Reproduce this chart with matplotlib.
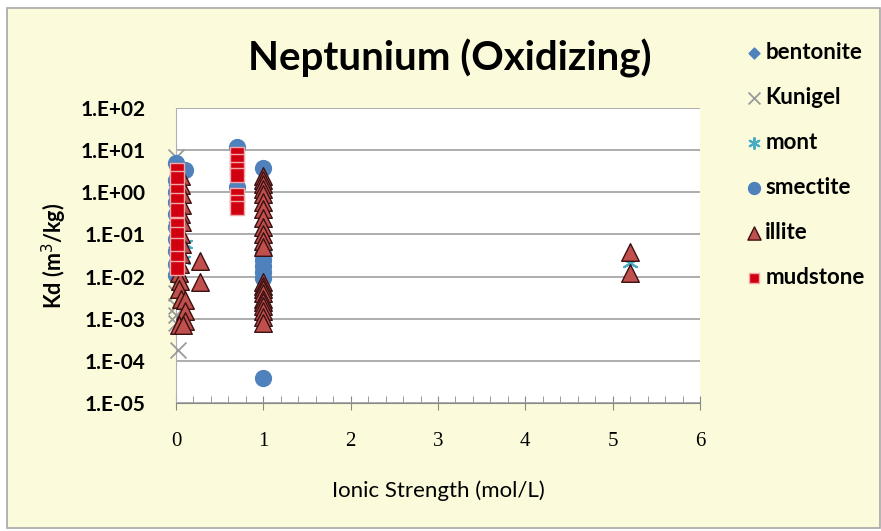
import matplotlib
matplotlib.use("Agg")
import matplotlib.pyplot as plt
from matplotlib.patches import Rectangle
from matplotlib.ticker import FixedLocator, MultipleLocator

# ---------------- data ----------------
bentonite_x = [0.0, 0.0, 0.0, 0.0, 0.0]
bentonite_y = [0.5, 0.2, 0.05, 0.012, 1.5]

kunigel_x = [0.0, 0.0, 0.0, 0.0, 0.0, 0.02]
kunigel_y = [7.0, 0.004, 0.002, 0.0012, 0.0008, 0.00018]

mont_x = [0.1, 0.08, 5.2]
mont_y = [0.06, 0.025, 0.021]

smectite_x = [0.0, 0.0, 0.0, 0.0, 0.0, 0.0, 0.0, 0.0, 0.0, 0.0, 0.1,
              0.7, 0.7,
              1.0, 1.0, 1.0, 1.0, 1.0, 1.0, 1.0]
smectite_y = [5.0, 2.0, 1.0, 0.6, 0.3, 0.15, 0.08, 0.04, 0.02, 0.011, 3.3,
              12.0, 1.3,
              3.7, 0.035, 0.025, 0.018, 0.013, 0.009, 0.00004]

illite_x = [0.06, 0.06, 0.07, 0.07, 0.06, 0.07, 0.06, 0.07, 0.06, 0.05, 0.04,
            0.05, 0.04, 0.06, 0.1, 0.1, 0.1, 0.03, 0.08, 0.28, 0.28,
            1.0, 1.0, 1.0, 1.0, 1.0, 1.0, 1.0, 1.0, 1.0, 1.0, 1.0, 1.0,
            1.0, 1.0, 1.0, 1.0, 1.0, 1.0, 1.0, 1.0, 1.0, 1.0,
            5.2, 5.2]
illite_y = [2.5, 1.5, 0.9, 0.5, 0.3, 0.2, 0.1, 0.06, 0.035, 0.02, 0.012,
            0.008, 0.005, 0.003, 0.0028, 0.0015, 0.0009, 0.0007, 0.0007, 0.024, 0.0074,
            2.5, 2.0, 1.6, 1.2, 0.9, 0.6, 0.4, 0.25, 0.15, 0.1, 0.07, 0.05,
            0.0075, 0.006, 0.005, 0.004, 0.003, 0.0025, 0.002, 0.0015, 0.0011, 0.0008,
            0.038, 0.012]

mudstone_x = [0.01, 0.01, 0.01, 0.01, 0.01, 0.01, 0.01, 0.01, 0.01, 0.01,
              0.7, 0.7, 0.7, 0.7, 0.7, 0.7, 0.7]
mudstone_y = [3.4, 2.2, 1.1, 0.65, 0.38, 0.17, 0.1, 0.056, 0.028, 0.016,
              8.0, 5.5, 3.6, 2.6, 0.85, 0.6, 0.42]

y_ticks = [1e-5, 1e-4, 1e-3, 1e-2, 1e-1, 1e0, 1e1, 1e2]
y_tick_labels = ["1.E-05", "1.E-04", "1.E-03", "1.E-02", "1.E-01", "1.E+00", "1.E+01", "1.E+02"]
x_ticks = [0, 1, 2, 3, 4, 5, 6]

# ---------------- figure ----------------
W, H = 881, 531
fig = plt.figure(figsize=(W / 100, H / 100), dpi=100)
fig.patch.set_facecolor("white")
bg = "#FBFBDC"
fig.patches.append(Rectangle((7 / W, 3 / H), (W - 8) / W, (H - 11) / H,
                             transform=fig.transFigure, facecolor=bg,
                             edgecolor="#A8A8A8", linewidth=1.2, zorder=-10))

ax = fig.add_axes([176 / W, 128 / H, 524 / W, 295 / H])
ax.set_facecolor("white")
ax.set_yscale("log")
ax.set_xlim(0, 6)
ax.set_ylim(1e-5, 1e2)

font = "Lato"
blue = "#4F81BD"

kw = dict(clip_on=False)
ax.scatter(bentonite_x, bentonite_y, marker="D", s=55, color=blue, zorder=3, label="bentonite", **kw)
ax.scatter(kunigel_x, kunigel_y, marker="x", s=130, color="#9A9A9A", linewidths=1.3, zorder=3, label="Kunigel", **kw)
ax.scatter(mont_x, mont_y, marker=(6, 2, 0), s=110, color="#4BACC6", linewidths=1.5, zorder=3, label="mont", **kw)
ax.scatter(smectite_x, smectite_y, marker="o", s=130, color=blue, zorder=4, label="smectite", **kw)
ax.scatter(illite_x, illite_y, marker="^", s=160, facecolor="#C0504D", edgecolor="#3A1010",
           linewidths=1.0, zorder=5, label="illite", **kw)
ax.scatter(mudstone_x, mudstone_y, marker="s", s=105, facecolor="#D00010", edgecolor="#F0A8A8",
           linewidths=1.0, zorder=6, label="mudstone", **kw)

# axes styling
for side in ["top", "right"]:
    ax.spines[side].set_visible(False)
ax.spines["left"].set_color("#B0B0B0")
ax.spines["bottom"].set_color("#888888")
ax.yaxis.set_major_locator(FixedLocator(y_ticks))
ax.yaxis.set_minor_locator(FixedLocator([]))
ax.set_yticklabels(y_tick_labels)
ax.xaxis.set_major_locator(FixedLocator(x_ticks))
ax.xaxis.set_minor_locator(MultipleLocator(0.2))
ax.grid(axis="y", which="major", color="#A0A0A0", linewidth=1.2)
ax.set_axisbelow(True)
ax.tick_params(axis="y", length=0, pad=22)
ax.tick_params(axis="x", which="major", direction="inout", length=10, color="#888888", pad=16)
ax.tick_params(axis="x", which="minor", direction="in", length=5, color="#888888")
for lab in ax.get_yticklabels():
    lab.set_fontfamily(font)
    lab.set_fontweight("bold")
    lab.set_fontsize(15)
for lab in ax.get_xticklabels():
    lab.set_fontfamily("Liberation Serif")
    lab.set_fontsize(15)

ax.set_xlabel("Ionic Strength (mol/L)", fontfamily=font, fontsize=16, labelpad=21)
ax.set_ylabel("Kd (m$^3$/kg)", fontfamily=font, fontweight="bold", fontsize=15.5, labelpad=8)

fig.text(450 / W, 1 - 58 / H, "Neptunium (Oxidizing)", ha="center", va="center",
         fontfamily=font, fontweight="bold", fontsize=29)

leg = fig.legend(loc="upper left", bbox_to_anchor=(723 / W, 1 - 22 / H), frameon=False,
                 prop={"family": font, "weight": "bold", "size": 16},
                 labelspacing=1.08, handletextpad=0.0, handlelength=1.0, markerscale=0.75)

fig.savefig("out.png", dpi=100, facecolor=fig.get_facecolor())
